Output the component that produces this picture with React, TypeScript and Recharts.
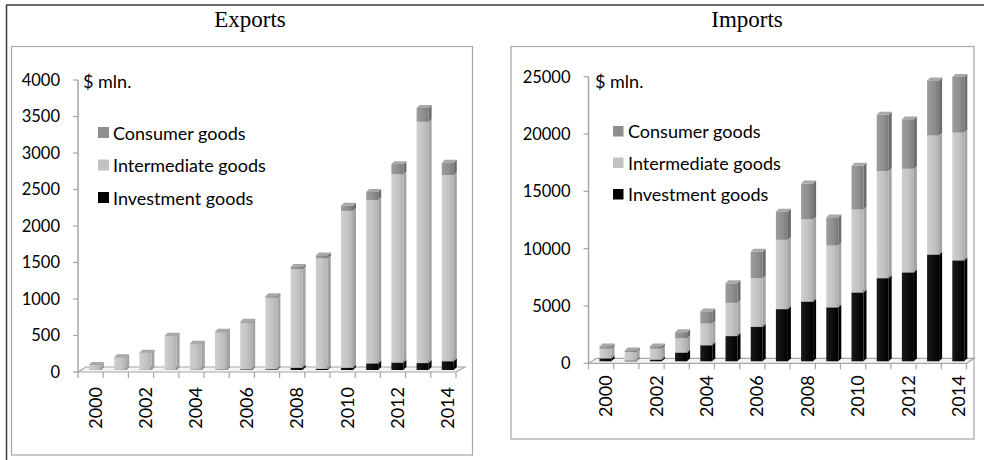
import React from 'react';
import { BarChart, Bar, XAxis, YAxis } from 'recharts';

// years on the category axis
const years = [
  '2000', '2001', '2002', '2003', '2004', '2005', '2006', '2007',
  '2008', '2009', '2010', '2011', '2012', '2013', '2014',
];

// exports, $ mln.
const exportsInvestment = [1, 1, 2, 2, 3, 4, 8, 10, 30, 15, 30, 90, 100, 95, 120];
const exportsIntermediate = [66, 169, 228, 460, 349, 511, 640, 980, 1350, 1515, 2150, 2240, 2580, 3305, 2550];
const exportsConsumer = [3, 5, 5, 8, 8, 10, 12, 20, 30, 40, 70, 110, 140, 190, 170];

// imports, $ mln.
const importsInvestment = [250, 50, 150, 750, 1400, 2200, 3000, 4550, 5200, 4700, 6000, 7250, 7750, 9300, 8800];
const importsIntermediate = [850, 750, 950, 1250, 1900, 2900, 4250, 6050, 7200, 5400, 7250, 9350, 9050, 10400, 11150];
const importsConsumer = [200, 150, 200, 540, 1050, 1700, 2300, 2450, 3100, 2450, 3800, 4900, 4300, 4800, 4850];

const exportsTicks = [0, 500, 1000, 1500, 2000, 2500, 3000, 3500, 4000];
const importsTicks = [0, 5000, 10000, 15000, 20000, 25000];

const legendItems = [
  { name: 'Consumer goods', color: '#8e8e8e' },
  { name: 'Intermediate goods', color: '#c2c2c2' },
  { name: 'Investment goods', color: '#000000' },
];

const exportsData = years.map((year, i) => ({
  year,
  investment: exportsInvestment[i],
  intermediate: exportsIntermediate[i],
  consumer: exportsConsumer[i],
}));

const importsData = years.map((year, i) => ({
  year,
  investment: importsInvestment[i],
  intermediate: importsIntermediate[i],
  consumer: importsConsumer[i],
}));

const SANS = 'Lato, "Open Sans", sans-serif';
const SERIF = '"Liberation Serif", "Times New Roman", serif';
const AXIS_GRAY = '#a6a6a6';

// pseudo 3d: shift of the front face and depth of top/side faces
const DX = 4;
const DY = -2;
const D = 3;

function Bar3D(props: any) {
  const { x, y, width, height, face, side, top } = props;
  if (x == null || y == null || !width) return null;
  const h = Math.max(height || 0, 0);
  const fx = x + DX;
  const fy = y + DY;
  return (
    <g>
      <polygon
        points={`${fx + width},${fy} ${fx + width + D},${fy - D} ${fx + width + D},${fy + h - D} ${fx + width},${fy + h}`}
        fill={side}
      />
      <polygon
        points={`${fx},${fy} ${fx + D},${fy - D} ${fx + width + D},${fy - D} ${fx + width},${fy}`}
        fill={top}
      />
      <rect x={fx} y={fy} width={width} height={h} fill={face} />
    </g>
  );
}

function YearTick(props: any) {
  const { x, y, payload, index, half, labelGap } = props;
  const i = index ?? payload?.index ?? 0;
  return (
    <g>
      <line x1={x - half} y1={y} x2={x - half} y2={y + 6} stroke={AXIS_GRAY} strokeWidth={1.2} />
      {i === years.length - 1 && (
        <line x1={x + half} y1={y} x2={x + half} y2={y + 6} stroke={AXIS_GRAY} strokeWidth={1.2} />
      )}
      {i % 2 === 0 && (
        <text
          x={0}
          y={0}
          transform={`translate(${x + 4},${y + labelGap}) rotate(-90)`}
          textAnchor="end"
          dominantBaseline="central"
          fontFamily={SANS}
          fontSize={18}
          fill="#000"
        >
          {payload.value}
        </text>
      )}
    </g>
  );
}

function Gradients() {
  return (
    <defs>
      <linearGradient id="gCons" x1="0" y1="0" x2="1" y2="0">
        <stop offset="0%" stopColor="#9c9c9c" />
        <stop offset="60%" stopColor="#8e8e8e" />
        <stop offset="100%" stopColor="#7a7a7a" />
      </linearGradient>
      <linearGradient id="gInter" x1="0" y1="0" x2="1" y2="0">
        <stop offset="0%" stopColor="#cfcfcf" />
        <stop offset="60%" stopColor="#c2c2c2" />
        <stop offset="100%" stopColor="#b0b0b0" />
      </linearGradient>
      <linearGradient id="gInv" x1="0" y1="0" x2="1" y2="0">
        <stop offset="0%" stopColor="#1a1a1a" />
        <stop offset="100%" stopColor="#000000" />
      </linearGradient>
    </defs>
  );
}

interface PanelProps {
  data: any[];
  ticks: number[];
  max: number;
  left: number;
  top: number;
  width: number;
  height: number;
  yWidth: number;
  margin: { top: number; right: number; left: number; bottom: number };
  xHeight: number;
  labelGap: number;
}

function Panel({ data, ticks, max, left, top, width, height, yWidth, margin, xHeight, labelGap }: PanelProps) {
  const half = (width - yWidth - margin.right) / years.length / 2;
  return (
    <div style={{ position: 'absolute', left, top, width, height }}>
      <BarChart width={width} height={height} data={data} margin={margin}>
        <Gradients />
        <XAxis
          dataKey="year"
          interval={0}
          axisLine={false}
          tickLine={false}
          tickSize={0}
          tickMargin={0}
          height={xHeight}
          tick={<YearTick half={half} labelGap={labelGap} />}
        />
        <YAxis
          type="number"
          domain={[0, max]}
          ticks={ticks}
          interval={0}
          width={yWidth}
          tickSize={5}
          tickMargin={13}
          axisLine={{ stroke: AXIS_GRAY, strokeWidth: 1.5 }}
          tickLine={{ stroke: AXIS_GRAY, strokeWidth: 1.2 }}
          tick={{ fontFamily: SANS, fontSize: 16.5, fill: '#000' }}
        />
        <Bar
          dataKey="investment"
          stackId="a"
          barSize={12}
          isAnimationActive={false}
          shape={(p: any) => <Bar3D {...p} face="url(#gInv)" side="#000" top="#333" />}
        />
        <Bar
          dataKey="intermediate"
          stackId="a"
          barSize={12}
          isAnimationActive={false}
          shape={(p: any) => <Bar3D {...p} face="url(#gInter)" side="#a2a2a2" top="#d6d6d6" />}
        />
        <Bar
          dataKey="consumer"
          stackId="a"
          barSize={12}
          isAnimationActive={false}
          shape={(p: any) => <Bar3D {...p} face="url(#gCons)" side="#6c6c6c" top="#a8a8a8" />}
        />
      </BarChart>
    </div>
  );
}

function Legend({ x, y, step, size }: { x: number; y: number; step: number; size: number }) {
  return (
    <g>
      {legendItems.map((item, i) => (
        <g key={item.name}>
          <rect x={x} y={y + i * step} width={size} height={size} fill={item.color} />
          <text x={x + 15} y={y + i * step + size + 1.5} fontFamily={SANS} fontSize={18} fill="#000">
            {item.name}
          </text>
        </g>
      ))}
    </g>
  );
}

export default function App() {
  return (
    <div
      style={{
        position: 'absolute',
        left: 0,
        top: 0,
        width: 984,
        height: 460,
        background: '#fff',
        overflow: 'hidden',
      }}
    >
      {/* frame, boxes, titles, 3d floors */}
      <svg width={984} height={460} style={{ position: 'absolute', left: 0, top: 0 }}>
        <line x1={6} y1={5} x2={984} y2={5} stroke="#3a3a3a" strokeWidth={1.5} />
        <line x1={6.5} y1={5} x2={6.5} y2={460} stroke="#3a3a3a" strokeWidth={1.5} />
        <rect x={11.5} y={46.5} width={461} height={408.5} fill="none" stroke={AXIS_GRAY} strokeWidth={1.2} />
        <rect x={511} y={46.5} width={463} height={392.5} fill="none" stroke={AXIS_GRAY} strokeWidth={1.2} />
        <text x={250} y={27} textAnchor="middle" fontFamily={SERIF} fontSize={23}>
          Exports
        </text>
        <text x={747} y={27} textAnchor="middle" fontFamily={SERIF} fontSize={23}>
          Imports
        </text>
        <polygon points="78,372 456,372 465,367 86,367" fill="#f4f4f4" stroke={AXIS_GRAY} strokeWidth={1.2} />
        <polygon points="588.5,363.3 966.5,363.3 974,358.3 596.5,358.3" fill="#f4f4f4" stroke={AXIS_GRAY} strokeWidth={1.2} />
      </svg>

      <Panel
        data={exportsData}
        ticks={exportsTicks}
        max={4000}
        left={12}
        top={47}
        width={461}
        height={408}
        yWidth={66}
        margin={{ top: 33, right: 17, left: 0, bottom: 0 }}
        xHeight={83}
        labelGap={15}
      />
      <Panel
        data={importsData}
        ticks={importsTicks}
        max={25000}
        left={511}
        top={47}
        width={465}
        height={392}
        yWidth={77.5}
        margin={{ top: 29.7, right: 9.5, left: 0, bottom: 0 }}
        xHeight={75.7}
        labelGap={12}
      />

      {/* legends and unit labels */}
      <svg width={984} height={460} style={{ position: 'absolute', left: 0, top: 0, pointerEvents: 'none' }}>
        <text x={83} y={88} fontFamily={SANS} fontSize={18} fill="#000">$ mln.</text>
        <text x={595} y={88} fontFamily={SANS} fontSize={18} fill="#000">$ mln.</text>
        <Legend x={98} y={127} step={32.5} size={11} />
        <Legend x={613} y={126} step={31.5} size={10.5} />
      </svg>
    </div>
  );
}
